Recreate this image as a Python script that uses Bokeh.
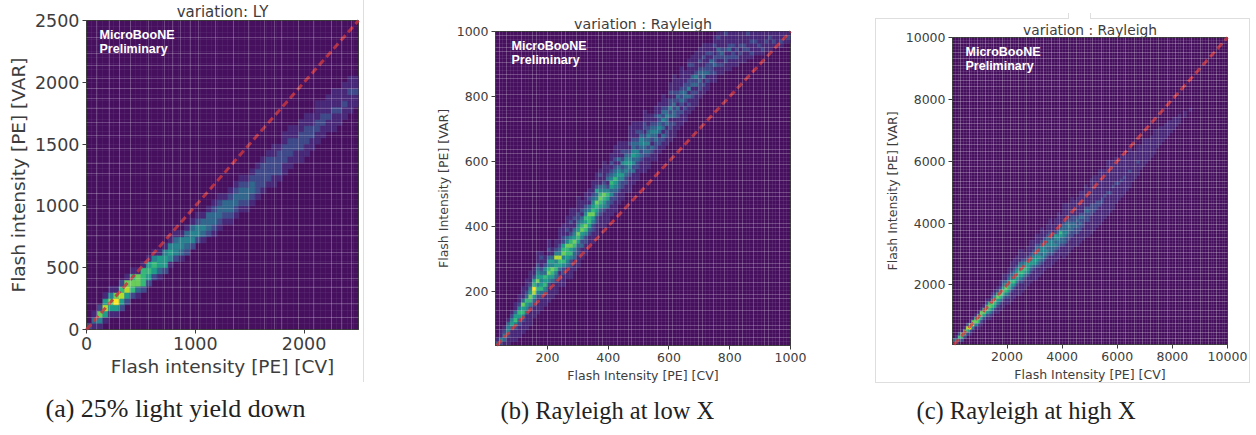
from bokeh.plotting import figure
from bokeh.embed import file_html
from bokeh.resources import INLINE
from bokeh.layouts import row
from bokeh.models import ColumnDataSource, FixedTicker, Grid, Label, Title, Div
from bokeh.palettes import Viridis256

# (column, first row, cell levels 0-9 going upward)
a_cells = [
(0,0,"2"),(1,0,"131"),(2,0,"1472"),(3,1,"15851"),(4,2,"15741"),(5,2,"15971"),(6,3,"25862"),(7,4,"25871"),
(8,5,"26761"),(9,5,"13771"),(10,6,"26661"),(11,7,"25651"),(12,8,"25641"),(13,8,"13551"),(14,9,"25541"),
(15,10,"14541"),(16,11,"24431"),(17,11,"13441"),(18,12,"23431"),(19,13,"24431"),(20,14,"24421"),(21,14,"13431"),
(22,15,"23331"),(23,15,"123321"),(24,16,"123321"),(25,17,"12331"),(26,17,"123321"),(27,18,"123321"),(28,19,"123321"),
(29,19,"123321"),(30,20,"123321"),(31,21,"122221"),(32,22,"122221"),(33,23,"122221"),(34,23,"1122211"),(35,24,"122221"),
(36,25,"1122211"),(37,26,"1122211"),(38,27,"112211"),(39,27,"1122211"),(40,28,"1122211"),(41,29,"112211"),(42,30,"1122111"),
(43,31,"112211"),(44,32,"112111"),(45,32,"1112111"),(46,33,"112111"),(47,34,"112111"),(48,35,"111211"),(49,36,"11211"),
]
b_cells = [
(0,0,"31"),(1,0,"2411"),(2,0,"13421"),(3,0,"1124431"),(4,1,"11135421"),(5,1,"1112465311"),(6,2,"11123564211"),
(7,3,"111246573111"),(8,4,"1111345632111"),(9,5,"11112467542111"),(10,7,"1112358965211"),(11,8,"1111246475432111"),
(12,9,"111236545321121"),(13,10,"1113465634211"),(14,11,"1111245764531211"),(15,12,"1111356745311"),(16,13,"11123465484211"),
(17,15,"112135684321111"),(18,15,"1112246476522111"),(19,17,"1113456674312111"),(20,17,"111224657642112111"),(21,19,"1113346754311211"),
(22,20,"111223567543221111"),(23,22,"111324576431211"),(24,23,"1112246756432111"),(25,25,"111235667431211"),(26,26,"1112245765432111"),
(27,28,"1112245674352111"),(28,30,"111235676431121"),(29,30,"11112456743211111"),(30,31,"111133564213211"),(31,33,"1112243564321211"),
(32,34,"11122345643212111"),(33,36,"1112334543131111"),(34,37,"111224532421211"),(35,39,"1122343543211"),(36,39,"11112345432121111"),
(37,41,"1113243543321111"),(38,42,"111223442321211"),(39,44,"1112323443211"),(40,44,"1111233432122111"),(41,45,"11123243432111"),
(42,47,"112312343211"),(43,47,"11122334321211"),(44,49,"1122134323111"),(45,50,"11231324232111"),(46,51,"112213343211"),
(47,52,"111221324221211"),(48,53,"1112133232121111"),(49,55,"1112231232111"),(50,56,"111212323211111"),(51,57,"1112123322111"),
(52,59,"11213142211121"),(53,60,"11122132311211"),(54,61,"11121324211111"),(55,63,"1122323212111"),(56,64,"1121332112111"),
(57,65,"112132211211"),(58,67,"1122231211"),(59,67,"112132211211"),(60,69,"11212231121"),(61,69,"11212321111"),
(62,70,"1122121112"),(63,70,"1112132111"),(64,71,"112212111"),(65,71,"112121111"),(66,72,"11212111"),(67,72,"11122111"),
(68,73,"1121112"),(69,73,"1211211"),(70,74,"111211"),(71,74,"112111"),(72,74,"121111"),(73,75,"11211"),(74,75,"11121"),
(75,76,"1211"),(76,76,"1111"),(77,76,"1211"),(78,77,"111"),(79,77,"121"),
]
c_cells = [
(0,0,"13"),(1,0,"241"),(2,1,"362"),(3,1,"2671"),(4,2,"2671"),(5,3,"2682"),(6,3,"12971"),(7,4,"14871"),(8,5,"14761"),
(9,5,"126761"),(10,6,"125771"),(11,7,"125761"),(12,8,"1257621"),(13,8,"1246761"),(14,9,"12467521"),(15,10,"12567521"),
(16,10,"112457621"),(17,11,"1124676211"),(18,12,"11246753211"),(19,13,"1124675311"),(20,13,"112356653211"),(21,14,"1112456432111"),
(22,15,"1112465432111"),(23,16,"1112456542111"),(24,16,"111124565431111"),(25,17,"11123566432111"),(26,18,"111235654211"),
(27,19,"1112455532111"),(28,20,"11123454321111"),(29,21,"1112355432111"),(30,21,"111124544432111"),(31,22,"11123454432111"),
(32,23,"111234344321111"),(33,24,"1112344443211"),(34,25,"11123434332111"),(35,25,"1111233443321111"),(36,26,"1112334432111"),
(37,27,"11123434521111"),(38,28,"111233443211111"),(39,29,"1112335632111"),(40,28,"111123344332111111"),(41,29,"11112234333211111"),
(42,30,"1111223343211111"),(43,31,"11112233322111111"),(44,32,"111122332211111"),(45,32,"1111223232111111"),(46,33,"11112232321111111"),
(47,34,"1111222321111111"),(48,35,"11111222321111111"),(49,35,"1111122232111111"),(50,36,"111111222211111111"),(51,37,"111111222111111111"),
(52,38,"11111122211111111"),(53,39,"111111221111111111"),(54,40,"11111122111111111"),(55,41,"1111111211111111"),(56,42,"111111121111111111"),
(57,43,"11111121111111111"),(58,44,"1111111211111111"),(59,46,"111111211111111"),(60,47,"1111121111111"),(61,48,"11111211111111"),
(62,49,"1111121111111"),(63,50,"111111111111"),(64,51,"1111121111111"),(65,53,"1111111111"),(66,54,"111111111"),(67,55,"1111211111"),
(68,57,"11111111"),(69,58,"111111111"),(70,59,"11111111"),(71,60,"1111111"),(72,61,"1111111"),(73,62,"11111111"),(74,64,"111111"),
(75,65,"111111"),(76,66,"11111"),(77,67,"11111"),(78,68,"11111"),(79,69,"1111"),(80,70,"1111"),(81,71,"111"),(82,72,"111"),(84,74,"11"),(86,76,"1"),
]

a_xticks = [0, 1000, 2000]
a_yticks = [0, 500, 1000, 1500, 2000, 2500]
b_ticks = [200, 400, 600, 800, 1000]
c_ticks = [2000, 4000, 6000, 8000, 10000]
a_xlines = [92,215,307,406,569,713,793,867,953,1030,1184,1347,1485,1633,1725,1790,1946,2085,2251,2343,2435]
a_ylines = [97,210,340,413,534,623,760,841,979,1100,1262,1343,1464,1570,1675,1788,1869,1950,2031,2136,2233,2362]
b_xlines = [1,3,7,10,11,14,18,19,22,25,28,29,33,36,37,40,44,47,48,51,55,56,59,62,66,67,70,73,74,77]
b_ylines = [2,4,5,9,12,13,16,20,21,24,27,30,31,35,38,39,42,46,49,50,53,57,58,61,64,68,69,72,75,76,79]
c_ylines = [2,4,7,9,11,14,16,18,21,23,25,28,30,32,35,37,39,42,44,46,49,51,53,56,58,60,63,65,67,70,72,74,77,79,81,84,86,88,91,93,95,98]
c_xlines = [3,6,9,12,15,18,21,24,27,30,33,36,39,42,45,48,51,54,57,60,63,66,69,72,75,78,81,84,87,90,93,96]

HEIGHT = 435


def panel(w, left, right, top, fw, fh, xr, yr, nx, ny, cells, xticks, yticks, tick_pt, lab_pt, xlabel, ylabel,
          title, title_px, caption, cap_off, cap_stand, cap_px, xlines, ylines, faint, strong, note_dx):
    bottom = HEIGHT - top - fh
    p = figure(width=w, height=HEIGHT, x_range=xr, y_range=yr, output_backend="svg", toolbar_location=None,
               min_border_left=left, min_border_right=right, min_border_top=top, min_border_bottom=bottom,
               title=title, frame_align=False)
    p.title.align = "center"
    p.title.standoff = 0
    p.title.text_font = "DejaVu Sans"
    p.title.text_font_size = title_px
    p.title.text_font_style = "normal"
    p.title.text_color = "#3d3d3d"
    p.background_fill_color = "#46105f"
    p.border_fill_color = "white"
    p.outline_line_color = "#3a3a3a"
    dx = (xr[1] - xr[0]) / nx
    dy = (yr[1] - yr[0]) / ny
    L, R, B, T, C = [], [], [], [], []
    for col, start, s in cells:
        for k, ch in enumerate(s):
            v = int(ch)
            if v == 0:
                continue
            L.append(xr[0] + col * dx); R.append(xr[0] + (col + 1) * dx)
            B.append(yr[0] + (start + k) * dy); T.append(yr[0] + (start + k + 1) * dy)
            C.append(Viridis256[int(v * 255 / 9)])
    src = ColumnDataSource(dict(left=L, right=R, bottom=B, top=T, color=C))
    p.quad(left="left", right="right", bottom="bottom", top="top", fill_color="color", line_color="color",
           line_width=0.5, source=src)
    for ax in (p.xaxis[0], p.yaxis[0]):
        ax.major_label_text_font = "DejaVu Sans"
        ax.major_label_text_font_size = tick_pt
        ax.major_label_text_color = "#3d3d3d"
        ax.axis_label_text_font = "DejaVu Sans"
        ax.axis_label_text_font_size = lab_pt
        ax.axis_label_text_font_style = "normal"
        ax.axis_label_text_color = "#3d3d3d"
        ax.minor_tick_line_color = None
        ax.major_tick_in = 0
        ax.major_tick_out = 4
        ax.major_tick_line_color = "#3d3d3d"
        ax.axis_line_color = "#3d3d3d"
        ax.major_label_standoff = 3
        ax.axis_label_standoff = 3
    p.xaxis[0].ticker = FixedTicker(ticks=xticks)
    p.yaxis[0].ticker = FixedTicker(ticks=yticks)
    p.xaxis[0].axis_label = xlabel
    p.yaxis[0].axis_label = ylabel
    p.xgrid.visible = False
    p.ygrid.visible = False
    for dim, ticks in ((0, xlines), (1, ylines)):
        p.add_layout(Grid(dimension=dim, ticker=FixedTicker(ticks=ticks), grid_line_color="white",
                          grid_line_alpha=strong, grid_line_width=1, level="overlay"), "center")
    xe = [xr[0] + i * dx for i in range(nx + 1)]
    ye = [yr[0] + i * dy for i in range(ny + 1)]
    p.add_layout(Grid(dimension=0, ticker=FixedTicker(ticks=xe), grid_line_color="white",
                      grid_line_alpha=faint, level="overlay"), "center")
    p.add_layout(Grid(dimension=1, ticker=FixedTicker(ticks=ye), grid_line_color="white",
                      grid_line_alpha=faint, level="overlay"), "center")
    lo = max(xr[0], yr[0])
    r = p.line([lo, min(xr[1], yr[1])], [lo, min(xr[1], yr[1])], line_color="#c4343e", line_alpha=0.85,
               line_width=3, line_dash="7 4")
    r.level = "overlay"
    p.add_layout(Label(x=note_dx, y=fh - 21, x_units="screen", y_units="screen", text="MicroBooNE",
                       text_font="Liberation Sans", text_font_size="12.5px", text_font_style="bold",
                       text_color="white", level="overlay"))
    p.add_layout(Label(x=note_dx, y=fh - 35, x_units="screen", y_units="screen", text="Preliminary",
                       text_font="Liberation Sans", text_font_size="12.5px", text_font_style="bold",
                       text_color="white", level="overlay"))
    p.add_layout(Title(text=caption, align="left", offset=cap_off, standoff=cap_stand, text_font="Liberation Serif",
                       text_font_size=cap_px, text_font_style="normal", text_color="#222222"), "below")
    return p


def ticks_from_edges(lo, hi, n, idx):
    return [lo + i * (hi - lo) / n for i in idx]


a = panel(430, 86, 72, 20, 272, 309, (0, 2500), (0, 2500), 50, 50, a_cells, a_xticks, a_yticks, "17.5px", "18.5px",
          "Flash intensity [PE] [CV]", "Flash intensity [PE] [VAR]", "variation: LY", "15px",
          "(a) 25% light yield down", -41, 24, "26px", a_xlines, a_ylines, 0.05, 0.22, 13)
b = panel(438, 65, 78, 31, 295, 314, (29, 1000), (33, 1000), 80, 80, b_cells, b_ticks, b_ticks, "12.5px", "12.5px",
          "Flash Intensity [PE] [CV]", "Flash Intensity [PE] [VAR]", "variation : Rayleigh", "14.2px",
          "(b) Rayleigh at low X", 5, 19, "24.5px", ticks_from_edges(29, 1000, 80, b_xlines),
          ticks_from_edges(33, 1000, 80, b_ylines), 0.08, 0.17, 16)
c = panel(384, 84, 25, 37, 275, 307, (22, 10000), (75, 10000), 100, 100, c_cells, c_ticks, c_ticks, "12.5px", "12.5px",
          "Flash Intensity [PE] [CV]", "Flash Intensity [PE] [VAR]", "variation : Rayleigh", "13.8px",
          "(c) Rayleigh at high X", -36, 20, "24.5px", ticks_from_edges(22, 10000, 100, c_xlines),
          ticks_from_edges(75, 10000, 100, c_ylines), 0.1, 0.18, 13)


# light border lines of the pasted panels, laid over the page
def bar(l, t, w, h):
    return Div(text="", width=w, height=h, margin=0, styles={"position": "absolute", "left": f"{l}px", "top": f"{t}px",
               "width": f"{w}px", "height": f"{h}px", "background-color": "#dedede", "z-index": "5"})


bars = [bar(363, 0, 1, 382), bar(875, 18, 1, 365), bar(875, 18, 193, 1), bar(1090, 18, 159, 1),
        bar(1068, 13, 1, 6), bar(1090, 13, 1, 6), bar(1249, 18, 1, 365), bar(875, 382, 375, 1)]

page = row(a, b, c, *bars, spacing=0)
open("out.html", "w").write(file_html(page, INLINE))
